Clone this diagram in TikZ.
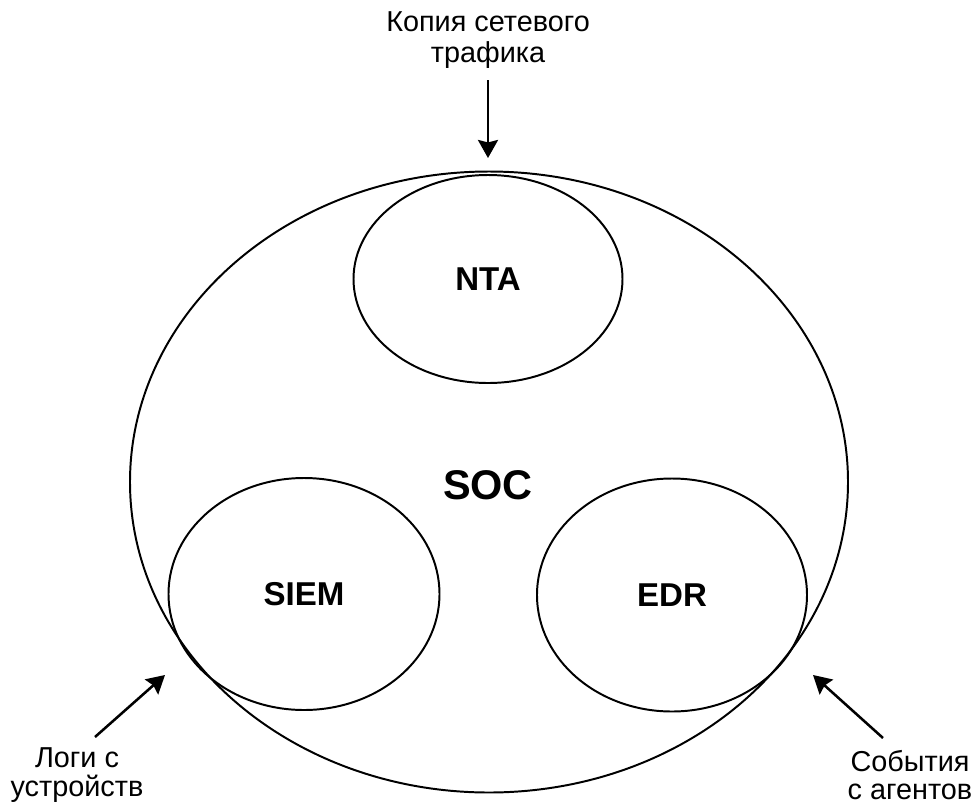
\documentclass[tikz,border=0pt]{standalone}
\usepackage{fontspec}
\setmainfont{Liberation Sans}
\usetikzlibrary{shapes.geometric,arrows.meta}
\tikzset{
  part/.style={draw, ellipse, line width=1.4pt, inner sep=0pt,
    font=\fontsize{23.5}{28}\selectfont\bfseries},
  srctext/.style={align=center, font=\fontsize{20.5}{22}\selectfont},
  feed/.style={line width=1.8pt, -{Stealth[length=0.45cm, width=0.5cm, inset=0.06cm]}}
}

\begin{document}
\begin{tikzpicture}[x=0.025cm, y=-0.025cm]
  \useasboundingbox (0,0) rectangle (976,805);
  % outer SOC and the three parts
  \node[part, minimum width=718*0.025cm, minimum height=621*0.025cm] (soc) at (489,482) {};
  \node[font=\fontsize{29.5}{34}\selectfont\bfseries] (soclabel) at (488,485) {SOC};
  \node[part, minimum width=269*0.025cm, minimum height=208*0.025cm] (nta) at (488,279) {NTA};
  \node[part, minimum width=271*0.025cm, minimum height=232*0.025cm] (siem) at (304,594) {SIEM};
  \node[part, minimum width=270*0.025cm, minimum height=233*0.025cm] (edr) at (672,595) {EDR};

  % data sources
  \node[srctext] (traffic) at (488,40) {Копия сетевого\\трафика};
  \node[srctext, font=\fontsize{20.5}{20.5}\selectfont] (logs) at (77,775) {Логи с\\устройств};
  \node[srctext, font=\fontsize{20.5}{20.5}\selectfont] (events) at (910,775) {События\\с агентов};

  \coordinate (trafficfrom) at (488,80);
  \coordinate (trafficin) at (488,158);
  \coordinate (logsfrom) at (95,737);
  \coordinate (logsin) at (165,675);
  \coordinate (eventsfrom) at (883,738);
  \coordinate (eventsin) at (813,675);

  \draw[feed] (trafficfrom) -- (trafficin);
  \draw[feed] (logsfrom) -- (logsin);
  \draw[feed] (eventsfrom) -- (eventsin);
\end{tikzpicture}
\end{document}
